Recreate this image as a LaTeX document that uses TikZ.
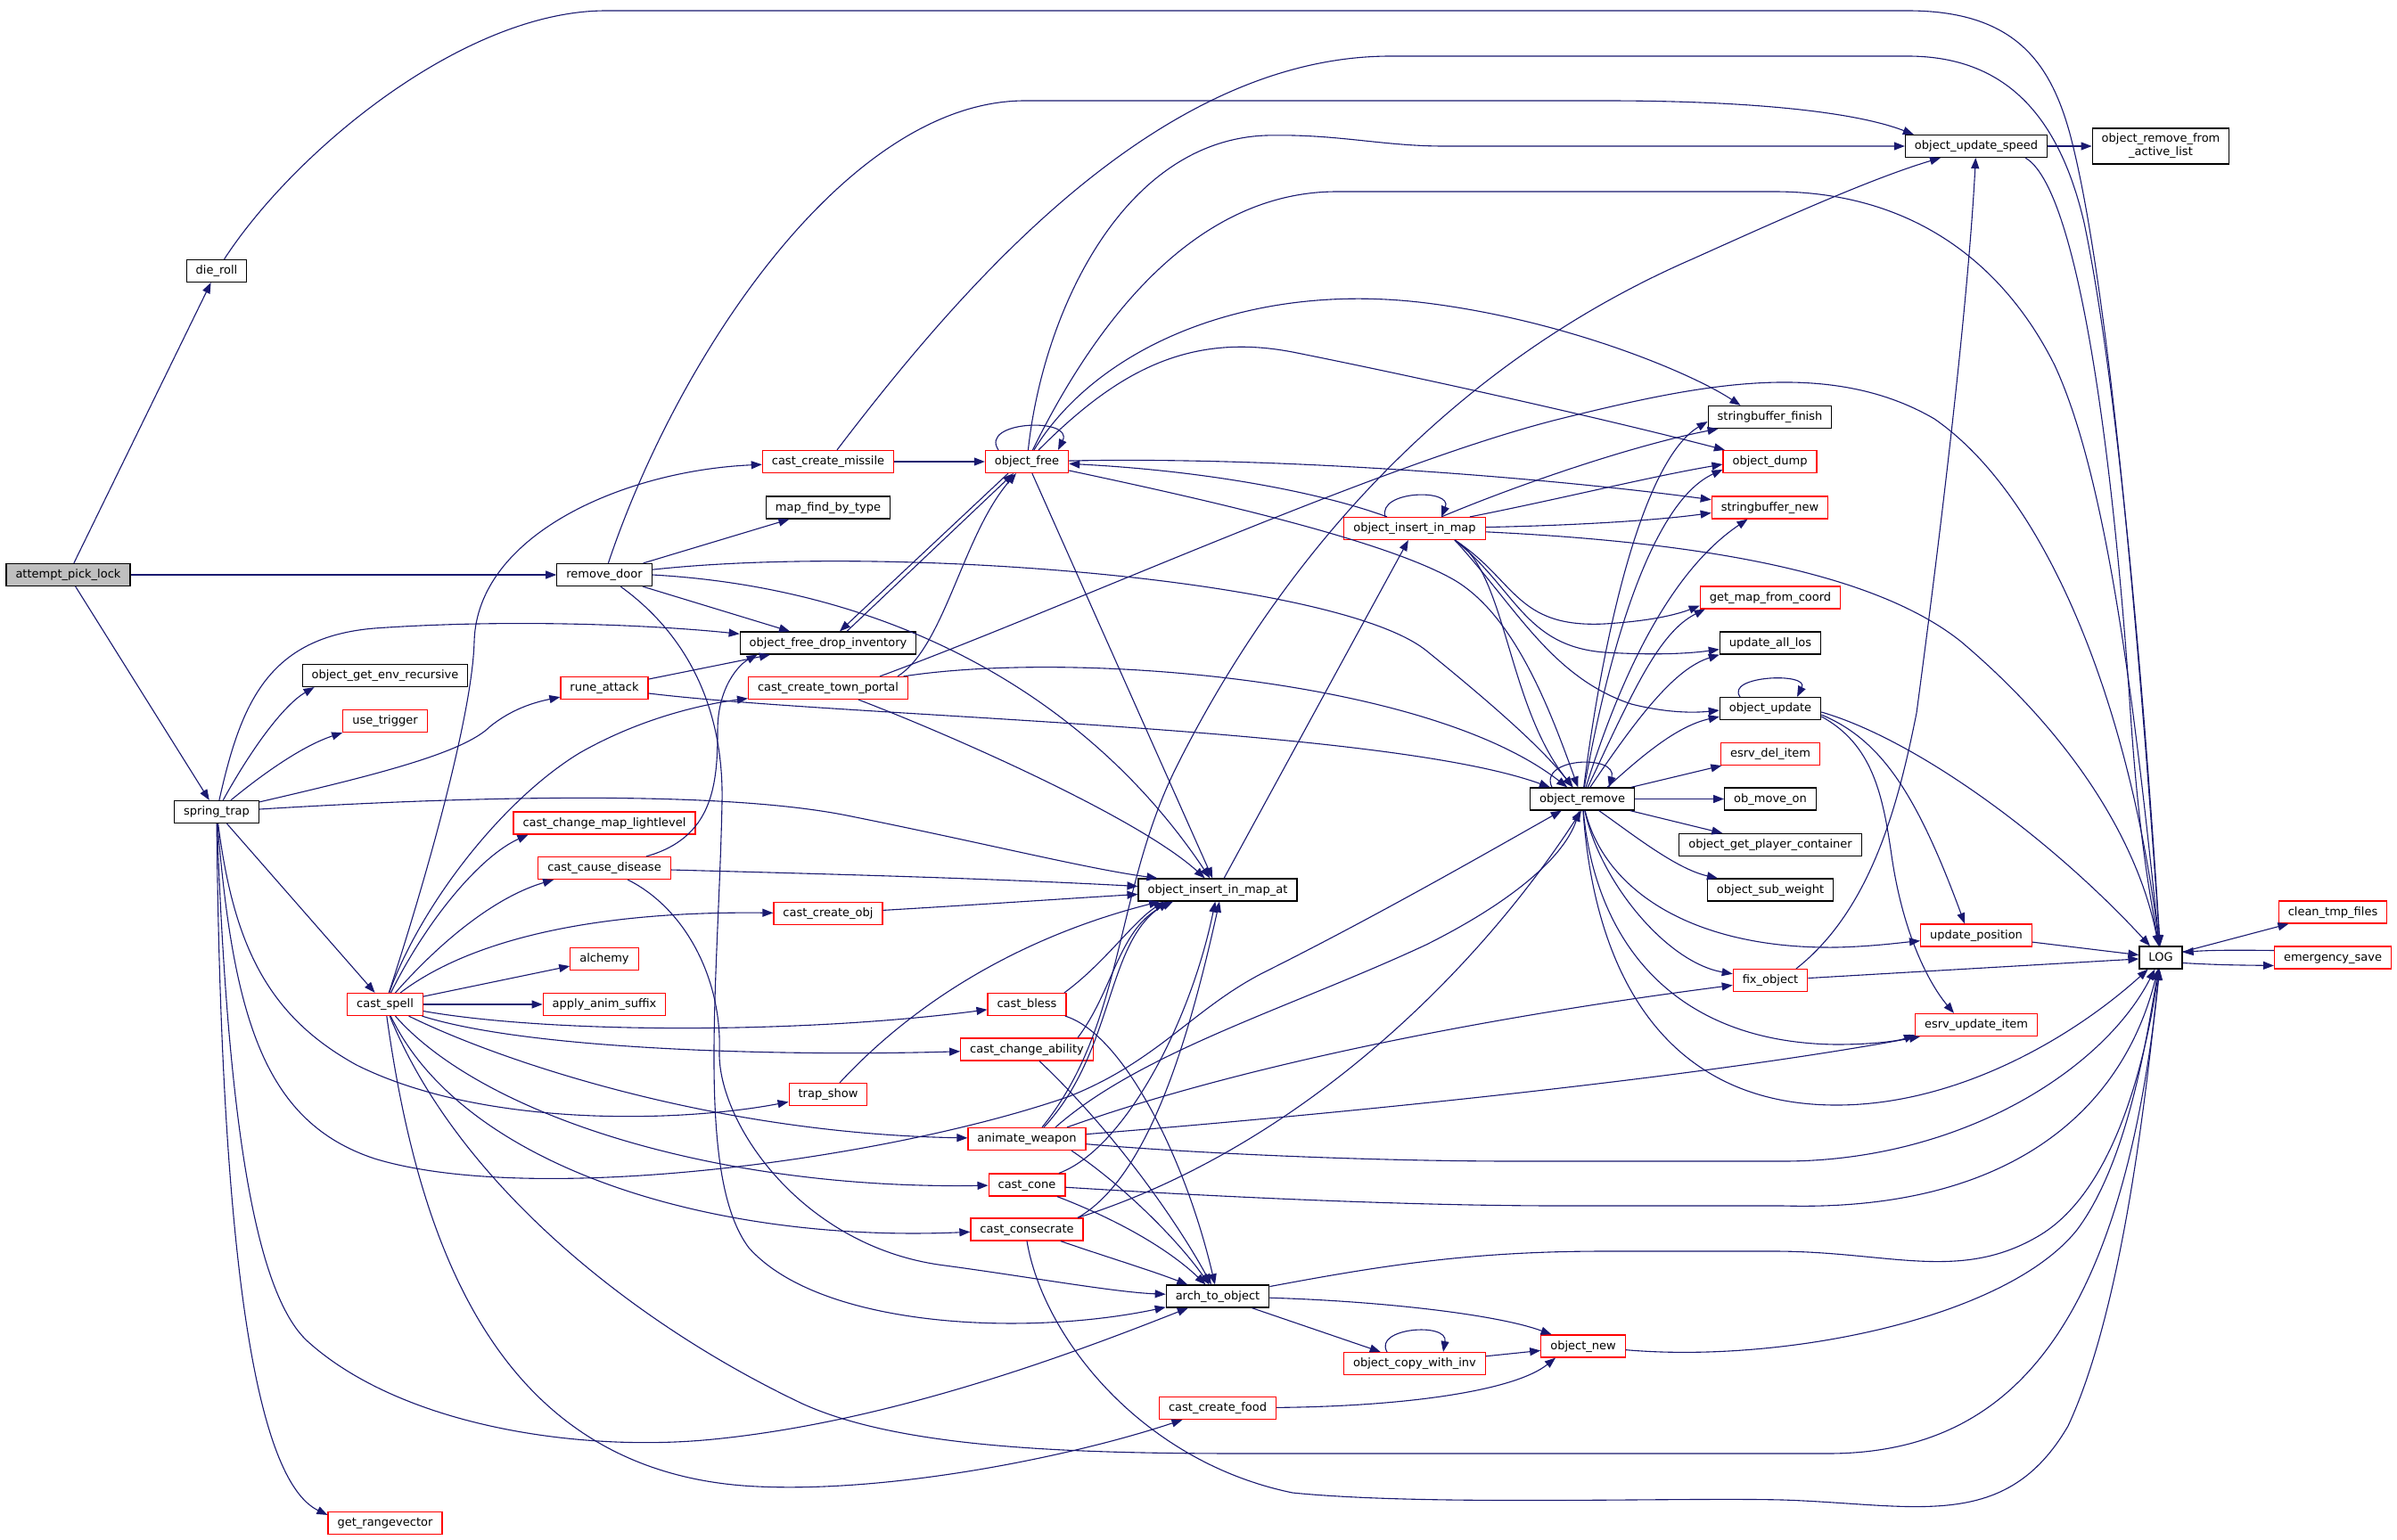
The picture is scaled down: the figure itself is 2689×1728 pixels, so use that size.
\documentclass[tikz,border=0pt]{standalone}
\usepackage{fontspec}
\setmainfont{DejaVu Sans}
\usetikzlibrary{arrows.meta}
\definecolor{edgec}{HTML}{191970}
\definecolor{redb}{HTML}{FF0000}
\definecolor{grayf}{HTML}{BFBFBF}
\newcommand\ndfont{\fontsize{13pt}{15pt}\selectfont}
\begin{document}
\begin{tikzpicture}[x=1pt,y=-1pt,
  base/.style={draw=black, line width=1.2pt, inner xsep=10.5pt, inner ysep=0pt, font=\ndfont},
  nd/.style={base, minimum height=25pt, text height=10pt, text depth=3pt},
  nr/.style={nd, draw=redb},
  ng/.style={nd, fill=grayf},
  e/.style={draw=edgec, line width=1.1pt, -{Triangle[length=12pt,width=9pt]}}]
\fill[white] (0,0) rectangle (2689,1728);
\useasboundingbox (0,0) rectangle (2689,1728);
% ---------- nodes ----------
\node[ng] (apl) at (76.5,645) {attempt\_pick\_lock};
\node[nd] (dieroll) at (243,304) {die\_roll};
\node[nd] (removedoor) at (678,645) {remove\_door};
\node[nd] (springtrap) at (243,911) {spring\_trap};
\node[nd] (oger) at (432,758) {object\_get\_env\_recursive};
\node[nr] (usetrig) at (432,809) {use\_trigger};
\node[nr] (castspell) at (432,1127) {cast\_spell};
\node[nr] (getrange) at (432,1709) {get\_rangevector};
\node[nr] (runeattack) at (678,772) {rune\_attack};
\node[nr] (ccml) at (678,923.5) {cast\_change\_map\_lightlevel};
\node[nr] (ccd) at (678,974) {cast\_cause\_disease};
\node[nr] (alchemy) at (678,1076) {alchemy};
\node[nr] (aas) at (678,1127) {apply\_anim\_suffix};
\node[nr] (ccmissile) at (929,518) {cast\_create\_missile};
\node[nd] (mfbt) at (929,569.5) {map\_find\_by\_type};
\node[nd] (ofdi) at (929,721.5) {object\_free\_drop\_inventory};
\node[nr] (cctp) at (929,772) {cast\_create\_town\_portal};
\node[nr] (cco) at (929,1025) {cast\_create\_obj};
\node[nr] (trapshow) at (929,1228) {trap\_show};
\node[nr] (ofree) at (1152,518) {object\_free};
\node[nr] (cbless) at (1152,1127) {cast\_bless};
\node[nr] (cca) at (1152,1177.5) {cast\_change\_ability};
\node[nr] (aw) at (1152,1278) {animate\_weapon};
\node[nr] (ccone) at (1152,1329.5) {cast\_cone};
\node[nr] (ccons) at (1152,1379.5) {cast\_consecrate};
\node[nd] (oimat) at (1366,998.5) {object\_insert\_in\_map\_at};
\node[nd] (ato) at (1366,1454.5) {arch\_to\_object};
\node[nr] (ccf) at (1366,1580) {cast\_create\_food};
\node[nr] (oim) at (1587,593) {object\_insert\_in\_map};
\node[nr] (ocwi) at (1587,1530) {object\_copy\_with\_inv};
\node[nd] (oremove) at (1775,896.5) {object\_remove};
\node[nr] (onew) at (1776,1510.5) {object\_new};
\node[nd] (sbf) at (1985.5,468) {stringbuffer\_finish};
\node[nr] (odump) at (1985.5,518) {object\_dump};
\node[nr] (sbn) at (1985.5,569.5) {stringbuffer\_new};
\node[nr] (gmfc) at (1986,670.5) {get\_map\_from\_coord};
\node[nd] (ual) at (1986,721.5) {update\_all\_los};
\node[nd] (oupd) at (1986,795) {object\_update};
\node[nr] (edi) at (1986,846) {esrv\_del\_item};
\node[nd] (omo) at (1986,896.5) {ob\_move\_on};
\node[nd] (ogpc) at (1986,948) {object\_get\_player\_container};
\node[nd] (osw) at (1986,998.5) {object\_sub\_weight};
\node[nr] (fixobj) at (1986,1100) {fix\_object};
\node[nd] (ous) at (2217,164) {object\_update\_speed};
\node[nr] (upos) at (2217,1049.5) {update\_position};
\node[nr] (eui) at (2217,1150) {esrv\_update\_item};
\node[base, align=center, minimum height=40pt, inner ysep=2pt] (orfal) at (2424,164) {object\_remove\_from\\\_active\_list};
\node[nd] (LOG) at (2424,1074.5) {LOG};
\node[nr] (ctf) at (2617,1023.5) {clean\_tmp\_files};
\node[nr] (esave) at (2617,1074.5) {emergency\_save};
% ---------- edges ----------
% attempt_pick_lock
\draw[e] (apl) -- (dieroll);
\draw[e] (apl) -- (removedoor);
\draw[e] (apl) -- (springtrap);
% die_roll
\draw[e] (dieroll) .. controls (330,170) and (520,12) .. (680,12) -- (2140,12) .. controls (2260,12) and (2300,70) .. (2322,150) .. controls (2370,330) and (2405,800) .. (LOG);
% remove_door
\draw[e] (removedoor) .. controls (760,400) and (950,113) .. (1150,113) -- (1800,113) .. controls (1960,113) and (2080,125) .. ([xshift=10pt]ous.north west);
\draw[e] (removedoor) -- (mfbt);
\draw[e] (removedoor) -- (ofdi);
\draw[e] (removedoor.east) .. controls (1000,660) and (1220,780) .. (oimat);
\draw[e] (removedoor) .. controls (1000,610) and (1500,650) .. (1600,730) .. controls (1680,795) and (1730,840) .. (oremove);
\draw[e] (removedoor) .. controls (775,715) and (812,800) .. (810,900) .. controls (806,1100) and (780,1320) .. (840,1400) .. controls (920,1490) and (1150,1500) .. (ato);
% spring_trap
\draw[e] (springtrap) .. controls (270,790) and (300,715) .. (420,705) .. controls (560,695) and (720,700) .. (ofdi);
\draw[e] (springtrap) .. controls (285,835) and (320,790) .. ([xshift=14pt]oger.south west);
\draw[e] (springtrap) .. controls (305,860) and (345,835) .. (usetrig.south west);
\draw[e] (springtrap) .. controls (420,870) and (520,845) .. (550,815) .. controls (575,795) and (600,788) .. ([yshift=3pt]runeattack.south west);
\draw[e] (springtrap) .. controls (500,895) and (800,885) .. (950,915) .. controls (1100,945) and (1220,975) .. ([xshift=22pt]oimat.north west);
\draw[e] (springtrap) -- (castspell);
\draw[e] (springtrap) .. controls (262,1060) and (300,1140) .. (400,1195) .. controls (540,1265) and (760,1260) .. (trapshow);
\draw[e] (springtrap) .. controls (262,1150) and (300,1260) .. (420,1300) .. controls (600,1355) and (1000,1300) .. (1200,1230) .. controls (1300,1190) and (1340,1130) .. (1420,1090) .. controls (1550,1025) and (1680,950) .. (oremove);
\draw[e] (springtrap) .. controls (255,1250) and (285,1450) .. (345,1505) .. controls (450,1600) and (650,1630) .. (800,1615) .. controls (1000,1595) and (1200,1520) .. (ato);
\draw[e] (springtrap) .. controls (248,1400) and (285,1660) .. ([yshift=-4pt]getrange.north west);
% cast_spell
\draw[e] (castspell) .. controls (480,980) and (530,800) .. (532,720) .. controls (535,600) and (700,528) .. (ccmissile);
\draw[e] (castspell) .. controls (470,1020) and (560,900) .. (650,845) .. controls (720,805) and (790,790) .. (cctp);
\draw[e] (castspell) .. controls (480,1030) and (540,960) .. ([xshift=17pt]ccml.south west);
\draw[e] (castspell) .. controls (500,1050) and (560,1005) .. ([xshift=18pt]ccd.south west);
\draw[e] (castspell) .. controls (520,1060) and (650,1022) .. (cco);
\draw[e] (castspell) -- (alchemy);
\draw[e] (castspell) -- (aas);
\draw[e] (castspell) .. controls (620,1160) and (900,1160) .. (cbless);
\draw[e] (castspell) .. controls (600,1180) and (900,1185) .. (cca);
\draw[e] (castspell) .. controls (560,1190) and (800,1272) .. (aw);
\draw[e] (castspell) .. controls (540,1250) and (800,1335) .. (ccone);
\draw[e] (castspell) .. controls (520,1310) and (800,1395) .. (ccons);
\draw[e] (castspell) .. controls (470,1400) and (560,1655) .. (850,1668) .. controls (1000,1675) and (1200,1635) .. (ccf);
\draw[e] (castspell) .. controls (510,1320) and (700,1480) .. (900,1575) .. controls (1010,1625) and (1200,1631) .. (1400,1631) -- (2050,1631) .. controls (2250,1631) and (2380,1500) .. (LOG);
% rune_attack
\draw[e] (runeattack) -- (ofdi);
\draw[e] (runeattack) .. controls (950,805) and (1550,815) .. (oremove);
% cast_create_missile
\draw[e] (ccmissile) -- (ofree);
\draw[e] (ccmissile) .. controls (1080,320) and (1300,63) .. (1560,63) -- (2140,63) .. controls (2250,63) and (2310,130) .. (2338,250) .. controls (2380,450) and (2410,850) .. (LOG);
% object_free <-> object_free_drop_inventory
\draw[e] ([xshift=-21pt]ofree.south) -- ([xshift=13pt]ofdi.north);
\draw[e] ([xshift=21pt]ofdi.north) -- ([xshift=-15pt]ofree.south);
% cast_create_town_portal
\draw[e] ([xshift=78pt]cctp.north) .. controls (1060,725) and (1080,600) .. ([xshift=-12pt]ofree.south);
\draw[e] ([xshift=58pt]cctp.north) .. controls (1200,680) and (1550,520) .. (1750,470) .. controls (1900,433) and (2050,400) .. (2170,470) .. controls (2300,560) and (2390,800) .. (LOG);
\draw[e] (cctp) .. controls (1200,730) and (1600,760) .. (oremove);
\draw[e] (cctp) .. controls (1080,830) and (1280,920) .. (oimat);
% object_free
\draw[e] ([xshift=-32pt]ofree.north) .. controls (1098,472) and (1205,468) .. ([xshift=35pt]ofree.north);
\draw[e] (ofree) .. controls (1170,350) and (1260,158) .. (1420,152) .. controls (1500,150) and (1550,164) .. (1620,164) -- (ous);
\draw[e] (ofree) .. controls (1220,380) and (1330,215) .. (1500,215) -- (1990,215) .. controls (2150,215) and (2250,300) .. (2305,410) .. controls (2370,550) and (2400,850) .. (LOG);
\draw[e] (ofree) .. controls (1230,390) and (1400,315) .. (1600,340) .. controls (1760,360) and (1900,420) .. ([xshift=-33pt]sbf.north);
\draw[e] (ofree) .. controls (1250,420) and (1330,372) .. (1450,395) .. controls (1600,425) and (1800,470) .. (odump);
\draw[e] (ofree) -- (oimat);
\draw[e] (ofree) .. controls (1350,560) and (1550,605) .. (1630,650) .. controls (1700,690) and (1740,800) .. (oremove);
\draw[e] (ofree) .. controls (1450,512) and (1750,538) .. (sbn);
% object_insert_in_map
\draw[e] ([xshift=-31pt]oim.north) .. controls (1480,552) and (1350,528) .. (ofree);
\draw[e] ([xshift=-33pt]oim.north) .. controls (1545,550) and (1630,548) .. ([xshift=30pt]oim.north);
\draw[e] ([xshift=30pt]oim.north) .. controls (1700,545) and (1830,500) .. ([xshift=12pt]sbf.south west);
\draw[e] ([xshift=62pt]oim.north) .. controls (1750,560) and (1850,535) .. ([yshift=-3pt]odump.west);
\draw[e] (oim) .. controls (1750,590) and (1850,585) .. ([yshift=-6pt]sbn.west);
\draw[e] (oim) .. controls (1900,608) and (2100,640) .. (2200,720) .. controls (2330,830) and (2400,950) .. (LOG);
\draw[e] ([xshift=45pt]oim.south) .. controls (1690,640) and (1690,790) .. (oremove);
\draw[e] ([xshift=45pt]oim.south) .. controls (1700,650) and (1700,705) .. (1800,700) .. controls (1850,697) and (1880,690) .. ([yshift=4pt]gmfc.south west);
\draw[e] ([xshift=45pt]oim.south) .. controls (1700,660) and (1710,725) .. (1800,732) .. controls (1850,735) and (1890,734) .. ([yshift=6pt]ual.south west);
\draw[e] ([xshift=45pt]oim.south) .. controls (1700,680) and (1740,760) .. (1830,790) .. controls (1870,800) and (1900,800) .. ([yshift=-2pt]oupd.west);
% object_insert_in_map_at
\draw[e] (oimat) -- (oim);
% object_remove
\draw[e] ([xshift=-34pt]oremove.north) .. controls (1725,850) and (1815,846) .. ([xshift=30pt]oremove.north);
\draw[e] (oremove) .. controls (1800,700) and (1845,515) .. ([yshift=-5pt]sbf.west);
\draw[e] (oremove) .. controls (1810,700) and (1860,560) .. ([yshift=-9pt]odump.west);
\draw[e] (oremove) .. controls (1830,720) and (1890,630) .. ([xshift=-25pt]sbn.south);
\draw[e] (oremove) .. controls (1830,780) and (1860,710) .. ([xshift=6pt]gmfc.south west);
\draw[e] (oremove) .. controls (1840,800) and (1880,750) .. (ual.south west);
\draw[e] ([xshift=28pt]oremove.north) .. controls (1840,850) and (1880,815) .. ([yshift=4pt]oupd.south west);
\draw[e] (oremove) -- (edi);
\draw[e] (oremove) -- (omo);
\draw[e] (oremove) -- (ogpc);
\draw[e] (oremove) .. controls (1830,935) and (1880,975) .. (osw);
\draw[e] (oremove) .. controls (1800,1000) and (1900,1065) .. (2060,1063) .. controls (2100,1062) and (2130,1058) .. (upos);
\draw[e] (oremove) .. controls (1795,990) and (1870,1080) .. (fixobj);
\draw[e] (oremove) .. controls (1790,1060) and (1880,1170) .. (2060,1172) .. controls (2100,1172) and (2130,1168) .. ([yshift=2pt]eui.south west);
\draw[e] (oremove) .. controls (1790,1110) and (1880,1240) .. (2060,1240) .. controls (2200,1240) and (2330,1160) .. (LOG);
% object_update
\draw[e] ([xshift=-34pt]oupd.north) .. controls (1935,758) and (2030,754) .. ([xshift=30pt]oupd.north);
\draw[e] ([yshift=-4pt]oupd.east) .. controls (2150,830) and (2300,940) .. (LOG);
\draw[e] ([yshift=-7pt]oupd.east) .. controls (2110,830) and (2150,890) .. ([xshift=-13pt]upos.north);
\draw[e] ([yshift=-9pt]oupd.east) .. controls (2100,835) and (2112,890) .. (2122,960) .. controls (2135,1050) and (2165,1105) .. ([xshift=-25pt]eui.north);
% object_update_speed
\draw[e] (ous) -- (orfal);
\draw[e] ([xshift=55pt]ous.south) .. controls (2330,210) and (2370,500) .. (2390,800) .. controls (2400,950) and (2415,1020) .. (LOG);
% fix_object
\draw[e] (fixobj) -- (LOG);
\draw[e] ([xshift=29pt]fixobj.north) .. controls (2100,1020) and (2130,900) .. (2150,800) .. controls (2190,500) and (2210,300) .. (ous);
% update_position
\draw[e] (upos) -- (LOG);
% LOG
\draw[e] (LOG) -- (ctf);
\draw[e] ([yshift=-6pt]LOG.east) .. controls (2490,1083) and (2520,1083) .. ([yshift=-9pt]esave.west);
\draw[e] ([yshift=8pt]esave.west) .. controls (2510,1066) and (2480,1066) .. ([yshift=6pt]LOG.east);
% object_new
\draw[e] (onew) .. controls (2000,1530) and (2250,1480) .. (2330,1380) .. controls (2390,1300) and (2410,1150) .. (LOG);
% arch_to_object
\draw[e] (ato) .. controls (1550,1460) and (1680,1475) .. (onew);
\draw[e] (ato) -- (ocwi);
\draw[e] (ato) .. controls (1550,1420) and (1650,1404) .. (1800,1404) -- (1990,1404) .. controls (2120,1404) and (2200,1440) .. (2290,1385) .. controls (2370,1335) and (2405,1200) .. (LOG);
% object_copy_with_inv
\draw[e] ([xshift=-31pt]ocwi.north) .. controls (1540,1490) and (1625,1483) .. ([xshift=32pt]ocwi.north);
\draw[e] (ocwi) -- (onew);
% cast_create_food
\draw[e] (ccf) .. controls (1580,1578) and (1700,1560) .. ([xshift=-31pt]onew.south);
% animate_weapon
\draw[e] ([xshift=19pt]aw.north) .. controls (1250,1180) and (1240,1060) .. ([xshift=-55pt]oimat.south);
\draw[e] ([xshift=17pt]aw.north) .. controls (1262,1150) and (1250,1000) .. (1320,860) .. controls (1420,660) and (1600,420) .. (1900,290) .. controls (2000,245) and (2100,200) .. ([xshift=-40pt]ous.south);
\draw[e] ([xshift=32pt]aw.north) .. controls (1280,1180) and (1450,1130) .. (1600,1060) .. controls (1700,1010) and (1755,960) .. ([xshift=-3pt]oremove.south);
\draw[e] ([xshift=45pt]aw.north) .. controls (1350,1210) and (1600,1150) .. (fixobj);
\draw[e] (aw) .. controls (1500,1250) and (1900,1210) .. ([xshift=6pt]eui.south west);
\draw[e] (aw) .. controls (1350,1295) and (1550,1303) .. (1700,1303) -- (2000,1303) .. controls (2200,1303) and (2360,1200) .. (LOG);
\draw[e] ([xshift=50pt]aw.south) .. controls (1260,1330) and (1320,1390) .. (ato);
% cast_bless
\draw[e] ([xshift=42pt]cbless.north) .. controls (1240,1080) and (1270,1035) .. ([xshift=-60pt]oimat.south);
\draw[e] (cbless) .. controls (1260,1160) and (1330,1300) .. (ato);
% cast_change_ability
\draw[e] ([xshift=57pt]cca.north) .. controls (1250,1110) and (1255,1040) .. ([xshift=-50pt]oimat.south);
\draw[e] ([xshift=14pt]cca.south) .. controls (1250,1270) and (1320,1370) .. (ato);
% cast_cone
\draw[e] (ccone) .. controls (1260,1290) and (1335,1150) .. (oimat);
\draw[e] (ccone) .. controls (1270,1375) and (1320,1410) .. (ato);
\draw[e] (ccone) .. controls (1400,1345) and (1600,1353) .. (1750,1353) -- (2000,1353) .. controls (2250,1360) and (2380,1250) .. (LOG);
% cast_consecrate
\draw[e] ([xshift=57pt]ccons.north) .. controls (1290,1320) and (1335,1160) .. ([xshift=2pt]oimat.south);
\draw[e] ([xshift=57pt]ccons.north) .. controls (1450,1290) and (1650,1100) .. ([xshift=-1pt]oremove.south);
\draw[e] (ccons) .. controls (1240,1410) and (1290,1425) .. (ato);
\draw[e] (ccons.south) .. controls (1170,1500) and (1280,1640) .. (1450,1675) .. controls (1600,1690) and (1880,1680) .. (2000,1683) .. controls (2150,1688) and (2250,1720) .. (2320,1600) .. controls (2385,1460) and (2410,1200) .. (LOG);
% cast_cause_disease
\draw[e] (ccd) .. controls (900,980) and (1100,985) .. ([yshift=4pt]oimat.west);
\draw[e] (ccd) .. controls (800,940) and (805,880) .. (805,820) .. controls (805,770) and (830,745) .. ([xshift=20pt]ofdi.south west);
\draw[e] (ccd) .. controls (770,1020) and (810,1100) .. (807,1180) .. controls (805,1260) and (900,1400) .. (1060,1420) .. controls (1150,1432) and (1250,1450) .. (ato);
% trap_show
\draw[e] ([xshift=13pt]trapshow.north) .. controls (1030,1120) and (1150,1050) .. ([xshift=-65pt]oimat.south);
% cast_create_obj
\draw[e] (cco) .. controls (1100,1015) and (1200,1008) .. ([yshift=-5pt]oimat.west);
\end{tikzpicture}
\end{document}
